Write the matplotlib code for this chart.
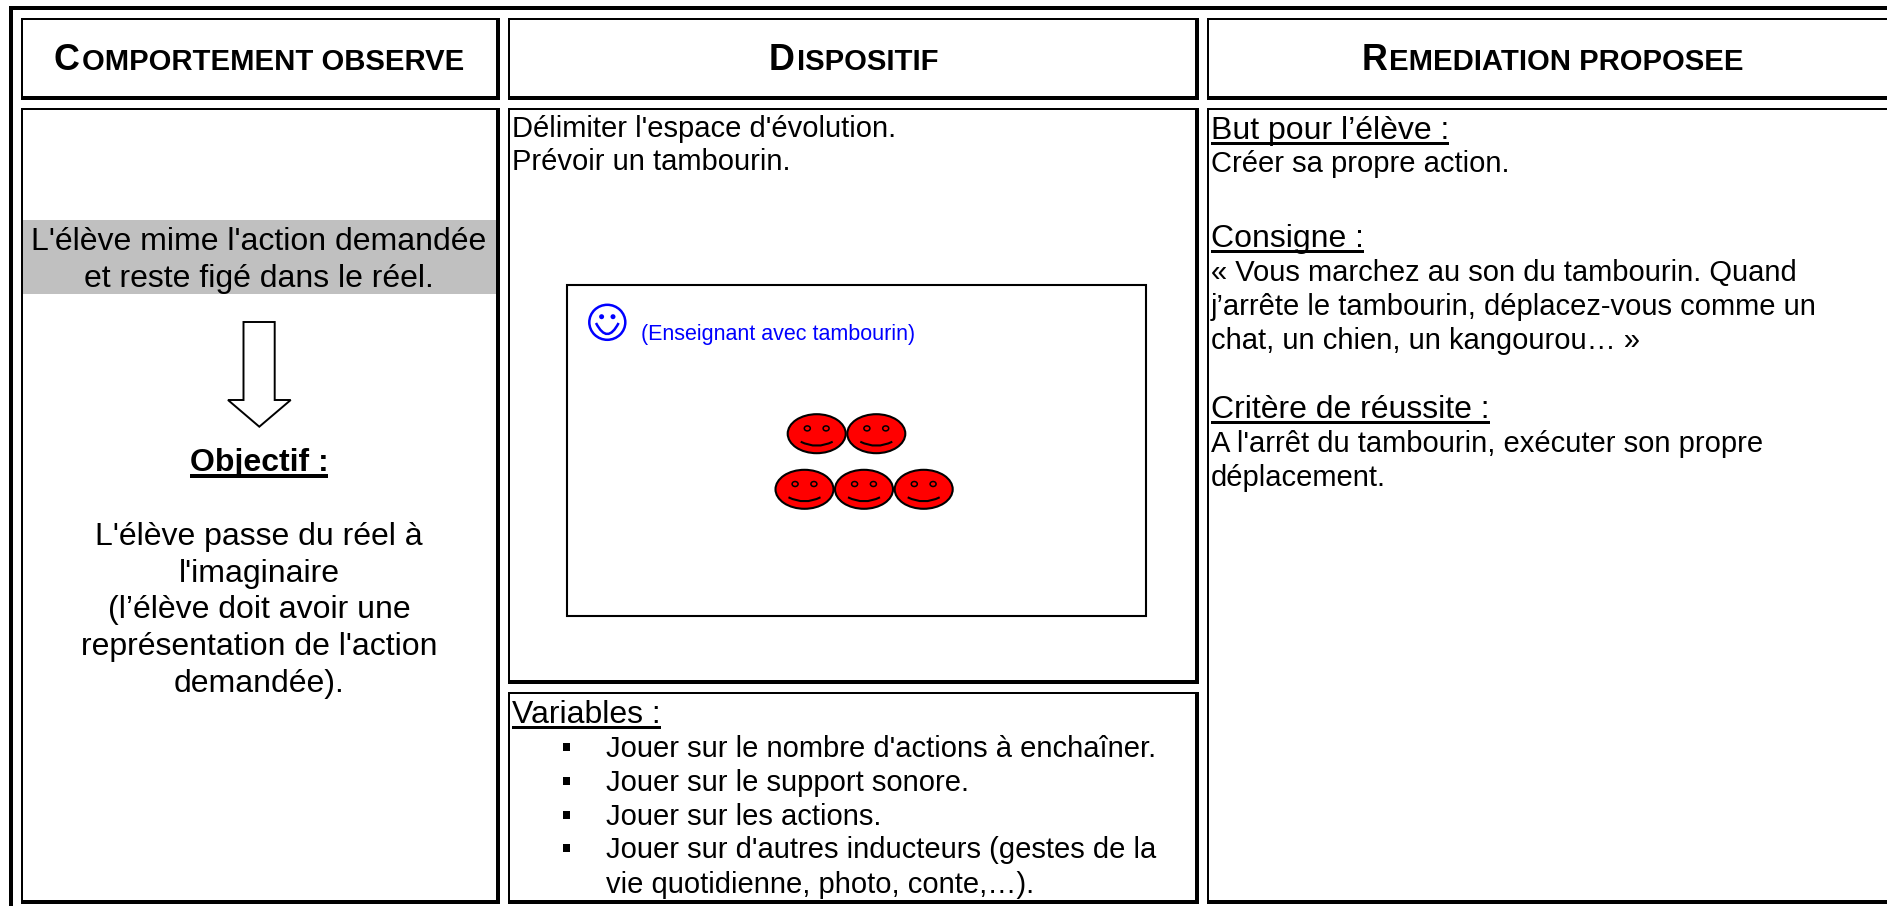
import matplotlib
matplotlib.use('Agg')
import matplotlib.pyplot as plt
from matplotlib.patches import Rectangle, Ellipse, PathPatch, Polygon
from matplotlib.path import Path

plt.rcParams['font.family'] = ['Liberation Sans', 'DejaVu Sans']

# text of the table
headers = [('C', 'OMPORTEMENT OBSERVE'), ('D', 'ISPOSITIF'), ('R', 'EMEDIATION PROPOSEE')]
grey_lines = ["L'élève mime l'action demandée", "et reste figé dans le réel."]
objectif = "Objectif :"
col1_lines = ["L'élève passe du réel à", "l'imaginaire", "(l’élève doit avoir une",
              "représentation de l'action", "demandée)."]
dispositif_lines = ["Délimiter l'espace d'évolution.", "Prévoir un tambourin."]
enseignant = "(Enseignant avec tambourin)"
variables_title = "Variables :"
variables = ["Jouer sur le nombre d'actions à enchaîner.", "Jouer sur le support sonore.",
             "Jouer sur les actions.", "Jouer sur d'autres inducteurs (gestes de la"]
variables_end = "vie quotidienne, photo, conte,…)."
but_title = "But pour l’élève :"
but_text = ["Créer sa propre action."]
consigne_title = "Consigne :"
consigne_text = ["« Vous marchez au son du tambourin. Quand",
                 "j’arrête le tambourin, déplacez-vous comme un",
                 "chat, un chien, un kangourou… »"]
critere_title = "Critère de réussite :"
critere_text = ["A l'arrêt du tambourin, exécuter son propre", "déplacement."]

W, H = 1887, 906
BIG = 23.0
BODY = 21.0

fig = plt.figure(figsize=(W / 100, H / 100), dpi=100, facecolor='white')
ax = fig.add_axes([0, 0, 1, 1])
ax.set_xlim(0, W)
ax.set_ylim(H, 0)
ax.axis('off')


def block(x0, y0, x1, y1, color='black', z=1):
    ax.add_patch(Rectangle((x0, y0), x1 - x0, y1 - y0, facecolor=color, edgecolor='none',
                           antialiased=False, zorder=z))


# word style cell: thin top and left, thick bottom and right
def cell(x0, y0, x1, y1):
    block(x0, y0, x1, y1)
    block(x0 + 2, y0 + 2, x1 - 4, y1 - 4, 'white', 2)


def text_width(t):
    return t.get_window_extent(fig.canvas.get_renderer()).width


def line(x, y, s, size=BODY, ha='left', **kw):
    return ax.text(x, y, s, fontsize=size, ha=ha, va='baseline', zorder=5, **kw)


def underlined(x, y, s, size=BIG, center=False, weight='normal', thick=3):
    t = line(x, y, s, size, ha='center' if center else 'left', fontweight=weight)
    w = text_width(t)
    left = x - w / 2 if center else x
    block(left, y + 3, left + w, y + 3 + thick, z=6)


# small caps, one big letter and the rest smaller
def small_caps(cx, y, first, rest):
    a = line(0, y, first, 25.8, fontweight='bold')
    b = line(0, y, rest, 21.1, fontweight='bold')
    wa, wb = text_width(a), text_width(b)
    left = cx - (wa + wb + 2) / 2
    a.set_x(left)
    b.set_x(left + wa + 2)


def face(cx, cy):
    ax.add_patch(Ellipse((cx, cy), 58, 39, facecolor='#ff0000', edgecolor='black', lw=1.5, zorder=3))
    for dx in (-9.4, 9.4):
        ax.add_patch(Ellipse((cx + dx, cy - 5.3), 6, 5, facecolor='none', edgecolor='black', lw=1.1, zorder=4))
    mouth = Path([(cx - 16, cy + 8), (cx, cy + 16), (cx + 16, cy + 8)],
                 [Path.MOVETO, Path.CURVE3, Path.CURVE3])
    ax.add_patch(PathPatch(mouth, facecolor='none', edgecolor='black', lw=1.5, zorder=4))


# outer frame, runs off the right and bottom of the picture
block(9, 6, W, 10)
block(9, 6, 13, H)

# cells
cell(21, 18, 500, 100)
cell(508, 18, 1199, 100)
cell(1207, 18, W + 20, 100)
cell(21, 108, 500, 904)
cell(508, 108, 1199, 684)
cell(508, 692, 1199, 904)
cell(1207, 108, W + 20, 904)

# headers
for cx, (first, rest) in zip([259, 853.5, 1552.5], headers):
    small_caps(cx, 70.5, first, rest)

# column 1
block(23, 220, 496, 294, '#c0c0c0', 3)
for y, s in zip([250, 287], grey_lines):
    line(259, y, s, BIG, ha='center')
arrow = [(243.5, 322), (274.7, 322), (274.7, 400), (290.7, 400), (259.3, 426.7), (228, 400), (243.5, 400)]
ax.add_patch(Polygon(arrow, closed=True, facecolor='white', edgecolor='black', lw=1.4, zorder=3))
underlined(259, 471, objectif, BIG, center=True, weight='bold', thick=4)
for y, s in zip([545, 582, 618, 655, 692], col1_lines):
    line(259, y, s, BIG, ha='center')

# column 2
for y, s in zip([137, 170], dispositif_lines):
    line(512, y, s)
ax.add_patch(Rectangle((566.5, 285), 579.5, 331, facecolor='white', edgecolor='black', lw=1.5, zorder=3))
ax.add_patch(Ellipse((607.3, 322.3), 36, 35, facecolor='none', edgecolor='#0000ff', lw=1.8, zorder=4))
for dx in (-5.7, 5.7):
    ax.add_patch(Ellipse((607.3 + dx, 316.7), 5, 5, facecolor='#0000ff', edgecolor='none', zorder=4))
smile = Path([(596, 323), (607.3, 345), (618.6, 323)], [Path.MOVETO, Path.CURVE3, Path.CURVE3])
ax.add_patch(PathPatch(smile, facecolor='none', edgecolor='#0000ff', lw=1.8, zorder=4))
line(641, 340, enseignant, 15.5, color='#0000ff')
for cx in (816.7, 876.3):
    face(cx, 433.7)
for cx in (804.5, 864, 923.7):
    face(cx, 489.3)

underlined(512, 723, variables_title)
for y, s in zip([757, 791, 825, 858], variables):
    block(562.5, y - 14, 569.5, y - 6, z=5)
    line(606, y, s)
line(606, 893, variables_end)

# column 3
underlined(1211, 139, but_title)
line(1211, 172, but_text[0])
underlined(1211, 246.5, consigne_title)
for y, s in zip([281, 315, 349], consigne_text):
    line(1211, y, s)
underlined(1211, 418, critere_title)
for y, s in zip([452, 486.5], critere_text):
    line(1211, y, s)

fig.savefig('out.png', dpi=100, facecolor='white')
